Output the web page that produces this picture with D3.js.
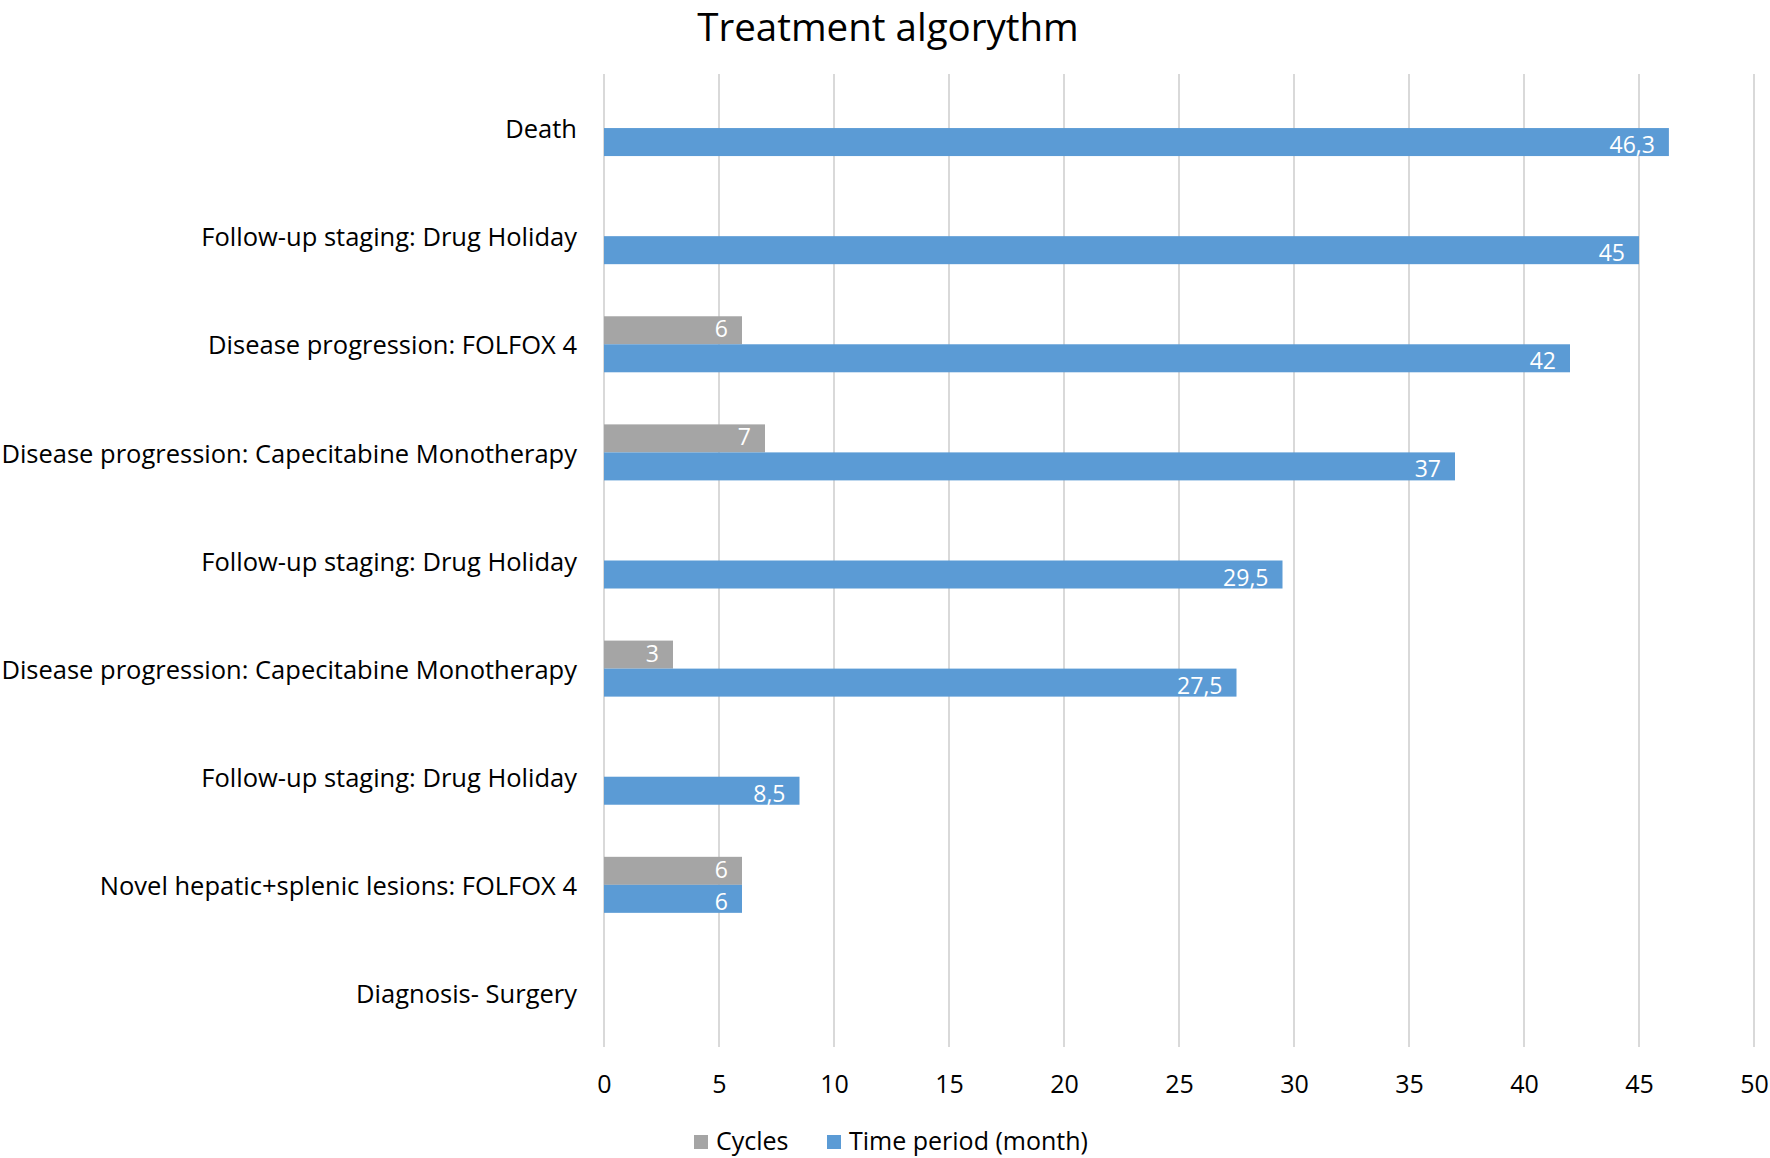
<!DOCTYPE html>
<html>
<head>
<meta charset="utf-8">
<script src="https://cdn.jsdelivr.net/npm/d3@7"></script>
<style>
  html, body { margin: 0; padding: 0; background: #fff; }
  svg { display: block; }
  text { font-family: "Open Sans", "Noto Sans", sans-serif; }
</style>
</head>
<body>
<svg id="chart" width="1770" height="1158"></svg>
<script>
// Categories listed bottom to top
const categories = [
  "Diagnosis- Surgery",
  "Novel hepatic+splenic lesions: FOLFOX 4",
  "Follow-up staging: Drug Holiday",
  "Disease progression: Capecitabine Monotherapy",
  "Follow-up staging: Drug Holiday",
  "Disease progression: Capecitabine Monotherapy",
  "Disease progression: FOLFOX 4",
  "Follow-up staging: Drug Holiday",
  "Death"
];
const cycles = [null, 6, null, 3, null, 7, 6, null, null];
const timePeriod = [null, 6, 8.5, 27.5, 29.5, 37, 42, 45, 46.3];
const xTicks = [0, 5, 10, 15, 20, 25, 30, 35, 40, 45, 50];
const seriesNames = ["Cycles", "Time period (month)"];
const seriesColors = ["#A5A5A5", "#5B9BD5"];

const svg = d3.select("#chart");
const margin = { left: 604, right: 16, top: 74, bottom: 111 };
const W = 1770, H = 1158;

const x = d3.scaleLinear().domain([0, 50]).range([margin.left, W - margin.right]);
const idx = categories.map((_, i) => i);
const y = d3.scaleBand().domain(idx.slice().reverse()).range([margin.top, H - margin.bottom]).padding(0);
const ySub = d3.scaleBand().domain([0, 1]).range([0, y.bandwidth()]).paddingInner(0).paddingOuter(0.93);

// Title
svg.append("text")
  .attr("x", 888).attr("y", 41)
  .attr("text-anchor", "middle")
  .attr("font-size", 38.5).attr("fill", "#000")
  .text("Treatment algorythm");

// Gridlines
svg.append("g").selectAll("line").data(xTicks).join("line")
  .attr("x1", d => x(d)).attr("x2", d => x(d))
  .attr("y1", margin.top).attr("y2", H - margin.bottom)
  .attr("stroke", "#D9D9D9").attr("stroke-width", 2);

// X axis labels
const xAxis = d3.axisBottom(x).tickValues(xTicks).tickSize(0).tickPadding(0);
const gx = svg.append("g").attr("transform", `translate(0, ${H - margin.bottom + 38})`).call(xAxis);
gx.select(".domain").remove();
gx.selectAll("text").attr("font-size", 25).attr("fill", "#000")
  .attr("font-family", "'Open Sans', sans-serif").attr("dy", "0.32em").attr("y", 0);

// Y axis labels
const yAxis = d3.axisLeft(y).tickSize(0).tickPadding(0).tickFormat(i => categories[i]);
const gy = svg.append("g").attr("transform", `translate(${margin.left - 27}, 2)`).call(yAxis);
gy.select(".domain").remove();
gy.selectAll("text").attr("font-size", 25.5).attr("fill", "#000")
  .attr("font-family", "'Open Sans', sans-serif");

// Bars
const seriesData = [cycles, timePeriod];
const labelShift = [-2, 2];
seriesData.forEach((vals, s) => {
  const data = vals.map((v, i) => ({ i, v })).filter(d => d.v != null);
  const g = svg.append("g");
  g.selectAll("rect").data(data).join("rect")
    .attr("x", x(0))
    .attr("y", d => y(d.i) + ySub(s))
    .attr("width", d => x(d.v) - x(0))
    .attr("height", ySub.bandwidth())
    .attr("fill", seriesColors[s]);
  g.selectAll("text").data(data).join("text")
    .attr("x", d => x(d.v) - 14)
    .attr("y", d => y(d.i) + ySub(s) + ySub.bandwidth() / 2 + labelShift[s])
    .attr("text-anchor", "end").attr("dominant-baseline", "central")
    .attr("font-size", 23).attr("fill", "#fff")
    .text(d => String(d.v).replace(".", ","));
});

// Legend
const legend = svg.append("g").attr("transform", "translate(0, 1140)");
const legendX = [694, 827];
seriesNames.forEach((name, s) => {
  legend.append("rect").attr("x", legendX[s]).attr("y", -5).attr("width", 14).attr("height", 14)
    .attr("fill", seriesColors[s]);
  legend.append("text").attr("x", legendX[s] + 22).attr("y", 0)
    .attr("dominant-baseline", "central").attr("font-size", 25).attr("fill", "#000")
    .text(name);
});
</script>
</body>
</html>
